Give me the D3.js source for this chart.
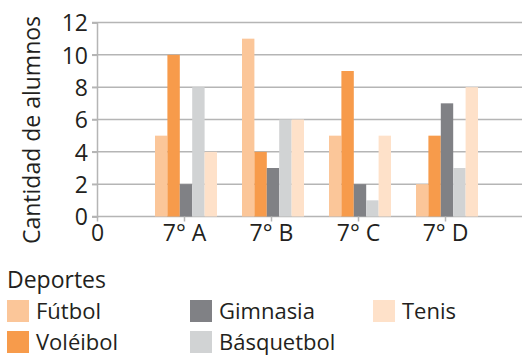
<!DOCTYPE html>
<html>
<head>
<meta charset="utf-8">
<script src="https://cdn.jsdelivr.net/npm/d3@7"></script>
<style>
  body { margin: 0; background: #fff; }
  text { font-family: "Open Sans", sans-serif; fill: #231f20; }
</style>
</head>
<body>
<div class="chart"></div>
<script>
// data
var groups = ["7° A", "7° B", "7° C", "7° D"];
var tickLabels = ["0", "7° A", "7° B", "7° C", "7° D"];
var series = ["Fútbol", "Voléibol", "Gimnasia", "Básquetbol", "Tenis"];
var futbol = [5, 11, 5, 2];
var voleibol = [10, 4, 9, 5];
var gimnasia = [2, 3, 2, 7];
var basquetbol = [8, 6, 1, 3];
var tenis = [4, 6, 5, 8];
var yTicks = [0, 2, 4, 6, 8, 10, 12];
var colors = ["#fbc699", "#f79b4b", "#808185", "#d1d3d4", "#fee1c9"];

var values = [futbol, voleibol, gimnasia, basquetbol, tenis];

var W = 522, H = 357;
var svg = d3.select(".chart").append("svg")
    .attr("width", W)
    .attr("height", H);

var x = d3.scalePoint().domain(tickLabels).range([97, 445]);
var inner = d3.scaleBand().domain(series).range([-29, 33]).padding(0);
var y = d3.scaleLinear().domain([0, 12]).range([216.5, 22.5]);
var color = d3.scaleOrdinal().domain(series).range(colors);

// gridlines
svg.append("g").selectAll("line")
  .data(yTicks)
  .enter().append("line")
    .attr("x1", 92).attr("x2", W)
    .attr("y1", function(d) { return y(d); })
    .attr("y2", function(d) { return y(d); })
    .attr("stroke", "#b5b5b5")
    .attr("stroke-width", 1.5);

// bars
var rows = [];
groups.forEach(function(g, i) {
  series.forEach(function(s, j) {
    rows.push({group: g, serie: s, value: values[j][i]});
  });
});

svg.append("g").selectAll("rect")
  .data(rows)
  .enter().append("rect")
    .attr("x", function(d) { return x(d.group) + inner(d.serie); })
    .attr("y", function(d) { return y(d.value); })
    .attr("width", inner.bandwidth())
    .attr("height", function(d) { return y(0) - y(d.value); })
    .attr("fill", function(d) { return color(d.serie); });

// y axis
var yAxis = svg.append("g")
    .attr("transform", "translate(97,0)")
    .call(d3.axisLeft(y).tickValues(yTicks).tickSize(5).tickPadding(4));
yAxis.select(".domain").attr("stroke", "#b5b5b5").attr("stroke-width", 1.5);
yAxis.selectAll(".tick line").attr("stroke", "#b5b5b5").attr("stroke-width", 1.5);
yAxis.selectAll(".tick text")
    .style("font-size", "23px")
    .attr("fill", "#231f20")
    .attr("dy", "0.36em");

// x axis
var xAxis = svg.append("g")
    .attr("transform", "translate(0," + y(0) + ")")
    .call(d3.axisBottom(x).tickSize(5).tickPadding(3));
xAxis.select(".domain").remove();
xAxis.selectAll(".tick line").attr("stroke", "#b5b5b5").attr("stroke-width", 1.5);
xAxis.selectAll(".tick text")
    .style("font-size", "23px")
    .attr("fill", "#231f20");

// y label
svg.append("text")
    .attr("transform", "translate(40,130) rotate(-90)")
    .attr("text-anchor", "middle")
    .style("font-size", "23px")
    .text("Cantidad de alumnos");

// legend
svg.append("text")
    .attr("x", 7).attr("y", 288)
    .style("font-size", "23px")
    .text("Deportes");

var legendPos = [[7, 300], [7, 331], [190, 300], [190, 331], [373, 300]];
var item = svg.append("g").selectAll("g")
  .data(series)
  .enter().append("g")
    .attr("transform", function(d, i) { return "translate(" + legendPos[i][0] + "," + legendPos[i][1] + ")"; });

item.append("rect")
    .attr("width", 22).attr("height", 22)
    .attr("fill", function(d) { return color(d); });

item.append("text")
    .attr("x", 29).attr("y", 19)
    .style("font-size", "22px")
    .text(function(d) { return d; });
</script>
</body>
</html>
